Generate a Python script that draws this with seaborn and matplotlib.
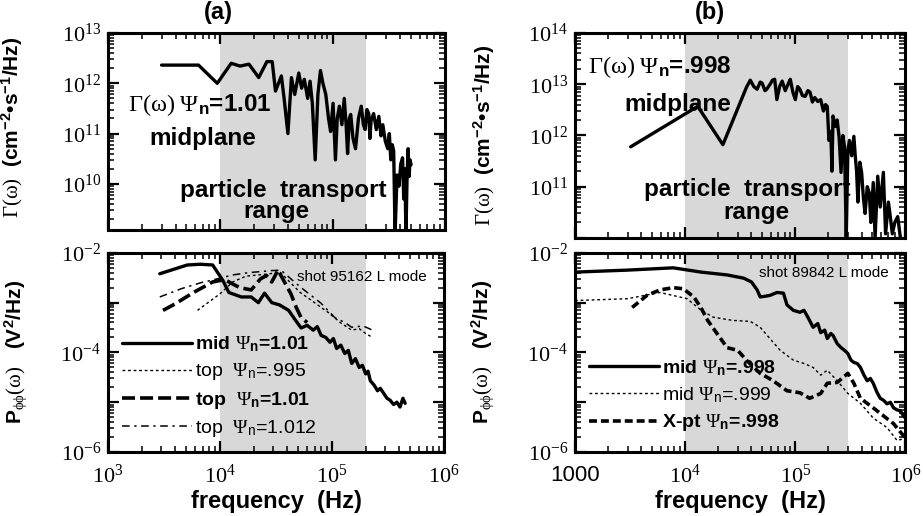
import numpy as np
import pandas as pd
import seaborn as sns
import matplotlib.pyplot as plt
from matplotlib.ticker import LogLocator

# ---- panel (a), upper: flux spectrum, midplane psi_n = 1.01
freq_a_flux = [3.0e3, 6.4e3, 9.4e3, 1.25e4, 1.5e4, 1.8e4, 2.2e4, 2.6e4, 2.9e4, 3.1e4,
               3.3e4, 3.5e4, 3.7e4, 4.0e4, 4.3e4, 4.6e4, 5.0e4, 5.3e4, 5.6e4, 6.0e4,
               6.3e4, 6.6e4, 7.0e4, 7.4e4, 7.8e4, 8.2e4, 8.7e4, 9.2e4, 9.6e4, 1.01e5,
               1.06e5, 1.1e5, 1.15e5, 1.21e5, 1.27e5, 1.32e5, 1.36e5, 1.41e5, 1.45e5, 1.52e5,
               1.6e5, 1.7e5, 1.8e5, 1.88e5, 1.95e5, 2.02e5, 2.1e5, 2.15e5, 2.2e5, 2.32e5,
               2.45e5, 2.58e5, 2.7e5, 2.8e5, 2.95e5, 3.1e5, 3.2e5, 3.3e5, 3.4e5, 3.5e5,
               3.6e5, 3.75e5, 3.9e5, 4.05e5, 4.2e5, 4.3e5, 4.4e5, 4.5e5, 4.6e5, 4.7e5,
               4.8e5, 4.9e5, 5.0e5]
flux_a = [2.3e12, 2.3e12, 1.0e12, 2.5e12, 2.2e12, 2.4e12, 1.3e12, 2.7e12, 2.7e12, 7e11,
          1.0e12, 1.4e12, 5e11, 1.0e11, 1.3e12, 6e11, 1.6e12, 8e11, 1.2e12, 5e11,
          1.1e12, 4e11, 3e10, 6e11, 1.8e12, 1.0e12, 6e11, 2e11, 1.1e11, 4e11,
          3e10, 2e11, 3.5e11, 1.5e11, 5e11, 1.5e11, 4e10, 2e11, 2.4e11, 8e10,
          5e10, 2e11, 3.5e11, 1.5e11, 1.2e11, 3e11, 2.5e11, 8e10, 1.8e11, 2.5e11,
          1.2e11, 2.2e11, 9e10, 1.5e11, 7e10, 5e10, 1.0e11, 3e10, 6e10, 4.5e10,
          1.0e9, 1.5e10, 9e9, 2.5e10, 3.3e10, 5e9, 2e10, 1.0e9, 1.2e10, 5e10,
          1.4e10, 3e10, 2.4e10]

# ---- panel (b), upper: flux spectrum, midplane psi_n = .998
freq_b_flux = [3.2e3, 1.3e4, 2.2e4, 3.6e4, 3.9e4, 4.2e4, 4.5e4, 4.8e4, 5.0e4, 5.3e4,
               5.5e4, 5.9e4, 6.2e4, 6.5e4, 6.8e4, 7.2e4, 7.6e4, 8.1e4, 8.6e4, 9.0e4,
               9.5e4, 1.0e5, 1.05e5, 1.1e5, 1.16e5, 1.23e5, 1.3e5, 1.36e5, 1.43e5, 1.5e5,
               1.6e5, 1.7e5, 1.8e5, 1.88e5, 1.95e5, 2.02e5, 2.1e5, 2.15e5, 2.2e5, 2.3e5,
               2.4e5, 2.5e5, 2.6e5, 2.7e5, 2.8e5, 2.9e5, 3.0e5, 3.1e5, 3.25e5, 3.4e5,
               3.5e5, 3.6e5, 3.7e5, 3.85e5, 4.0e5, 4.15e5, 4.3e5, 4.5e5, 4.7e5, 4.85e5,
               5.1e5, 5.3e5, 5.6e5, 5.9e5, 6.3e5, 6.6e5, 7.0e5, 7.3e5, 7.6e5, 8.0e5,
               8.5e5, 9.0e5]
flux_b = [6e11, 3.7e12, 6.6e11, 8.7e12, 1.2e13, 9e12, 8e12, 1.1e13, 1.05e13, 7.5e12,
          8e12, 1.0e13, 1.2e13, 1.25e13, 5e12, 9e12, 1.15e13, 7.5e12, 1.0e13, 1.25e13,
          7e12, 5e12, 9e12, 8e12, 6e12, 5.8e12, 7.5e12, 7e12, 4.5e12, 5.5e12,
          4.6e12, 5e12, 3e12, 4e12, 3.7e12, 8e11, 1.2e12, 2e11, 2.4e12, 1.5e12,
          2e12, 9e11, 1.9e11, 1.0e12, 6e11, 1.0e10, 5e11, 8e11, 4e11, 9.6e11,
          4e11, 2e11, 5e10, 3e11, 1.9e11, 6e10, 3e10, 1.0e11, 7.5e10, 2e10,
          1.2e11, 1.0e10, 1.6e11, 4e10, 1.9e11, 1.2e10, 5e10, 2.5e10, 1.2e10, 2e10,
          2.6e10, 1.0e10]

# ---- panel (a), lower: potential spectra, shot 95162
freq_a_mid = [2.9e3, 5.1e3, 6.7e3, 8.6e3, 1.06e4, 1.2e4, 1.55e4, 1.9e4, 2.2e4, 2.5e4,
              2.9e4, 3.4e4, 4.1e4, 4.7e4, 5.3e4, 6.0e4, 6.8e4, 7.4e4, 8.0e4, 8.8e4,
              9.6e4, 1.03e5, 1.1e5, 1.2e5, 1.3e5, 1.4e5, 1.5e5, 1.62e5, 1.75e5, 1.87e5,
              2.0e5, 2.1e5, 2.2e5, 2.38e5, 2.55e5, 2.7e5, 2.9e5, 3.1e5, 3.3e5, 3.55e5,
              3.8e5, 4.05e5, 4.3e5, 4.5e5]
pot_a_mid = [3.8e-3, 5.7e-3, 5.9e-3, 5.7e-3, 2.8e-3, 1.6e-3, 1.3e-3, 1.3e-3, 1.0e-3, 1.55e-3,
             1.0e-3, 9e-4, 7e-4, 4.5e-4, 3.1e-4, 3.5e-4, 2.8e-4, 3.3e-4, 2.2e-4, 2.0e-4,
             1.6e-4, 1.9e-4, 1.2e-4, 1.4e-4, 9.5e-5, 1.1e-4, 6e-5, 7.5e-5, 5e-5, 5.5e-5,
             3.7e-5, 4.2e-5, 2.7e-5, 2.2e-5, 1.7e-5, 1.9e-5, 1.5e-5, 1.2e-5, 1.1e-5, 9e-6,
             1.0e-5, 8e-6, 1.2e-5, 9.5e-6]
freq_a_t995 = [6.3e3, 1.0e4, 1.3e4, 1.7e4, 2.2e4, 2.8e4, 3.4e4, 4.2e4, 5.2e4, 6.6e4,
               8.0e4, 9.4e4, 1.2e5, 1.5e5, 1.75e5, 2.0e5, 2.3e5]
pot_a_t995 = [7e-4, 1.5e-3, 2.6e-3, 3.4e-3, 3.6e-3, 3.8e-3, 4.2e-3, 2.6e-3, 1.6e-3, 1.1e-3,
              8e-4, 6.2e-4, 3.9e-4, 2.8e-4, 3.0e-4, 2.4e-4, 2.0e-4]
freq_a_t101 = [3.1e3, 4.0e3, 5.8e3, 8.6e3, 1.1e4, 1.5e4, 1.9e4, 2.3e4, 2.6e4, 2.9e4,
               3.3e4, 3.8e4, 4.3e4, 4.8e4, 5.3e4, 6.0e4]
pot_a_t101 = [7e-4, 9.5e-4, 1.6e-3, 2.6e-3, 2.9e-3, 2.0e-3, 1.8e-3, 3.0e-3, 3.5e-3, 2.6e-3,
              4.5e-3, 2.5e-3, 1.5e-3, 8e-4, 5e-4, 4e-4]
freq_a_t1012 = [2.9e3, 4.5e3, 6.7e3, 1.0e4, 1.3e4, 1.8e4, 2.3e4, 2.9e4, 3.5e4, 4.3e4,
                5.3e4, 6.5e4, 8.0e4, 1.06e5, 1.3e5, 1.5e5, 1.9e5, 2.3e5]
pot_a_t1012 = [1.3e-3, 1.9e-3, 2.5e-3, 3.1e-3, 3.6e-3, 4.0e-3, 4.2e-3, 4.4e-3, 4.5e-3, 3.0e-3,
               2.0e-3, 1.4e-3, 9.7e-4, 5e-4, 4.0e-4, 3.2e-4, 3.4e-4, 2.8e-4]

# ---- panel (b), lower: potential spectra, shot 89842
freq_b_mid = [1.0e3, 3.0e3, 7.8e3, 1.4e4, 2.4e4, 3.4e4, 4.0e4, 4.5e4, 4.8e4, 5.4e4,
              5.9e4, 6.8e4, 7.8e4, 8.4e4, 9.6e4, 1.1e5, 1.2e5, 1.3e5, 1.45e5, 1.6e5,
              1.7e5, 1.85e5, 1.95e5, 2.1e5, 2.2e5, 2.4e5, 2.6e5, 2.8e5, 3.0e5, 3.2e5,
              3.4e5, 3.65e5, 3.9e5, 4.2e5, 4.5e5, 4.8e5, 5.1e5, 5.5e5, 5.9e5, 6.3e5,
              6.8e5, 7.3e5, 7.8e5, 8.4e5, 9.0e5, 9.5e5, 1.0e6]
pot_b_mid = [4.1e-3, 4.5e-3, 5.0e-3, 4.1e-3, 3.6e-3, 3.1e-3, 2.6e-3, 1.8e-3, 1.3e-3, 1.35e-3,
             1.4e-3, 1.6e-3, 1.55e-3, 9e-4, 7e-4, 6.4e-4, 7e-4, 5.1e-4, 3.2e-4, 3.8e-4,
             2.5e-4, 2.8e-4, 1.9e-4, 2.4e-4, 2.2e-4, 1.5e-4, 1.25e-4, 1.1e-4, 9.5e-5, 7e-5,
             6.3e-5, 6e-5, 5e-5, 3.5e-5, 2.7e-5, 3e-5, 2.4e-5, 1.6e-5, 1.2e-5, 1.1e-5,
             9.3e-6, 1e-5, 7.7e-6, 7e-6, 6.7e-6, 5.5e-6, 4.8e-6]
freq_b_m999 = [1.0e3, 3.0e3, 5.9e3, 1.04e4, 1.4e4, 1.8e4, 2.7e4, 3.9e4, 4.8e4, 6.0e4,
               7.3e4, 9.6e4, 1.2e5, 1.45e5, 1.7e5, 1.95e5, 2.4e5, 3.0e5, 3.9e5, 5.1e5,
               6.8e5, 8.4e5, 1.0e6]
pot_b_m999 = [1.1e-3, 1.2e-3, 1.6e-3, 1.2e-3, 7e-4, 5.1e-4, 4.4e-4, 4.2e-4, 3.2e-4, 1.8e-4,
              1.1e-4, 7e-5, 6e-5, 5e-5, 3.5e-5, 4.4e-5, 2.7e-5, 1.5e-5, 9.5e-6, 4.8e-6,
              3.1e-6, 1.7e-6, 1.9e-6]
freq_b_xpt = [3.3e3, 4.5e3, 5.9e3, 7.8e3, 9.6e3, 1.2e4, 1.4e4, 1.6e4, 2.0e4, 2.4e4,
              3.0e4, 3.6e4, 4.8e4, 6.3e4, 8.4e4, 1.1e5, 1.35e5, 1.7e5, 1.95e5, 2.4e5,
              3.0e5, 3.4e5, 3.9e5, 5.1e5, 7.8e5, 1.0e6]
pot_b_xpt = [8e-4, 1.4e-3, 1.8e-3, 2.0e-3, 1.9e-3, 1.3e-3, 7.7e-4, 4.4e-4, 2.2e-4, 1.25e-4,
             1.1e-4, 7e-5, 3.8e-5, 2.7e-5, 1.7e-5, 1.55e-5, 1.2e-5, 1.5e-5, 2.4e-5, 2.5e-5,
             3.8e-5, 2.4e-5, 1.2e-5, 7.7e-6, 3.7e-6, 1.9e-6]

# particle transport frequency range (shaded)
band_a = (1.0e4, 2.0e5)
band_b = (1.0e4, 3.0e5)

sns.set_theme(style="ticks")
plt.rcParams["font.family"] = ["Liberation Sans", "DejaVu Sans"]
plt.rcParams["mathtext.fontset"] = "custom"
plt.rcParams["mathtext.rm"] = "Liberation Serif"
plt.rcParams["mathtext.it"] = "Liberation Serif:italic"
plt.rcParams["mathtext.bf"] = "Liberation Sans:bold"
plt.rcParams["mathtext.sf"] = "Liberation Sans"
for key in ["text.color", "axes.labelcolor", "xtick.color", "ytick.color",
            "axes.edgecolor"]:
    plt.rcParams[key] = "black"

SHADE = "#d8d8d8"


def style_axes(ax, xlim, ylim):
    ax.set_xscale("log")
    ax.set_yscale("log")
    ax.set_xlim(xlim)
    ax.set_ylim(ylim)
    ax.set_facecolor("white")
    for sp in ax.spines.values():
        sp.set_linewidth(2.2)
        sp.set_color("black")
    ax.tick_params(which="both", direction="in", top=True, right=True,
                   colors="black", labelcolor="black")
    ax.tick_params(which="major", length=8, width=1.6, labelsize=16)
    ax.tick_params(axis="y", which="major", pad=5)
    ax.tick_params(axis="x", which="major", pad=9)
    ax.tick_params(which="minor", length=4, width=1.1)
    ax.xaxis.set_minor_locator(LogLocator(base=10, subs=np.arange(2, 10) * 1.0,
                                          numticks=30))
    ax.yaxis.set_minor_locator(LogLocator(base=10, subs=np.arange(2, 10) * 1.0,
                                          numticks=30))
    ax.grid(False)


def draw(ax, x, y, lw, ls="-", label=None):
    df = pd.DataFrame({"f": x, "v": y})
    sns.lineplot(data=df, x="f", y="v", ax=ax, color="black", lw=lw,
                 linestyle=ls, estimator=None, sort=False, label=label,
                 zorder=4)


fig = plt.figure(figsize=(9.23, 5.16), dpi=100)
ax_a1 = fig.add_axes([0.117, 0.554, 0.365, 0.382])
ax_a2 = fig.add_axes([0.117, 0.124, 0.364, 0.386])
ax_b1 = fig.add_axes([0.623, 0.539, 0.358, 0.397])
ax_b2 = fig.add_axes([0.623, 0.124, 0.358, 0.386])

flux_label = r"$\mathrm{\Gamma(\omega)}$  (cm$^{\mathbf{-2}}$•s$^{\mathbf{-1}}$/Hz)"
bold = dict(fontsize=17.5, fontweight="bold", zorder=3)

# ---------------- upper (a)
ax = ax_a1
ax.axvspan(*band_a, color=SHADE, lw=0, zorder=0)
draw(ax, freq_a_flux, flux_a, 2.4)
style_axes(ax, (1e3, 1e6), (1.2e9, 1e13))
ax.set_yticks([1e10, 1e11, 1e12, 1e13])
ax.set_yticklabels([r"$10^{10}$", r"$10^{11}$", r"$10^{12}$", r"$10^{13}$"])
ax.tick_params(labelbottom=False)
ax.set_xlabel("")
ax.set_ylabel(flux_label, fontsize=15, fontweight="bold")
ax.yaxis.set_label_coords(-0.245, 0.52)
ax.text(0.06, 0.635, r"$\mathrm{\Gamma(\omega)\ \Psi}_{\mathbf{n}}$=1.01",
        ha="left", va="center", transform=ax.transAxes, **bold)
ax.text(0.28, 0.467, "midplane", ha="center", va="center",
        transform=ax.transAxes, **bold)
ax.text(0.52, 0.203, "particle  transport", ha="center", va="center",
        transform=ax.transAxes, **bold)
ax.text(0.50, 0.096, "range", ha="center", va="center",
        transform=ax.transAxes, **bold)

# ---------------- upper (b)
ax = ax_b1
ax.axvspan(*band_b, color=SHADE, lw=0, zorder=0)
draw(ax, freq_b_flux, flux_b, 2.4)
style_axes(ax, (1e3, 1e6), (1e10, 1e14))
ax.set_yticks([1e10, 1e11, 1e12, 1e13, 1e14])
ax.set_yticklabels(["", r"$10^{11}$", r"$10^{12}$", r"$10^{13}$", r"$10^{14}$"])
ax.tick_params(labelbottom=False)
ax.set_xlabel("")
ax.set_ylabel(flux_label, fontsize=15, fontweight="bold")
ax.yaxis.set_label_coords(-0.235, 0.5)
ax.text(0.04, 0.834, r"$\mathrm{\Gamma(\omega)\ \Psi}_{\mathbf{n}}$=.998",
        ha="left", va="center", transform=ax.transAxes, **bold)
ax.text(0.31, 0.65, "midplane", ha="center", va="center",
        transform=ax.transAxes, **bold)
ax.text(0.52, 0.234, "particle  transport", ha="center", va="center",
        transform=ax.transAxes, **bold)
ax.text(0.55, 0.122, "range", ha="center", va="center",
        transform=ax.transAxes, **bold)

pot_label = r"P$_{\mathrm{\phi\phi}}$$\mathrm{(\omega)}$   (V$^{\mathbf{2}}$/Hz)"
dec_ticks = [1e-6, 1e-5, 1e-4, 1e-3, 1e-2]
dec_labels = [r"$10^{-6}$", "", r"$10^{-4}$", "", r"$10^{-2}$"]

# ---------------- lower (a)
ax = ax_a2
ax.axvspan(*band_a, color=SHADE, lw=0, zorder=0)
draw(ax, freq_a_mid, pot_a_mid, 2.4, "-", r"mid $\mathrm{\Psi}_{\mathbf{n}}$=1.01")
draw(ax, freq_a_t995, pot_a_t995, 1.0, (0, (2, 2)),
     r"top  $\mathrm{\Psi}_{\mathsf{n}}$=.995")
draw(ax, freq_a_t101, pot_a_t101, 2.6, (0, (3.6, 1.4)),
     r"top  $\mathrm{\Psi}_{\mathbf{n}}$=1.01")
draw(ax, freq_a_t1012, pot_a_t1012, 1.1, (0, (5, 3, 1.5, 3)),
     r"top  $\mathrm{\Psi}_{\mathsf{n}}$=1.012")
style_axes(ax, (1e3, 1e6), (1e-6, 1e-2))
ax.set_yticks(dec_ticks)
ax.set_yticklabels(dec_labels)
ax.set_xticks([1e3, 1e4, 1e5, 1e6])
ax.set_xticklabels([r"$10^{3}$", r"$10^{4}$", r"$10^{5}$", r"$10^{6}$"])
ax.set_xlabel("frequency  (Hz)", fontsize=17, fontweight="bold", labelpad=2)
ax.set_ylabel(pot_label, fontsize=15, fontweight="bold")
ax.yaxis.set_label_coords(-0.235, 0.5)
ax.text(0.95, 0.88, "shot 95162 L mode", ha="right", va="center",
        fontsize=11, transform=ax.transAxes, zorder=3)
leg = ax.legend(loc="upper left", bbox_to_anchor=(0.02, 0.63), frameon=False,
                fontsize=14, handlelength=3.6, handletextpad=0.15,
                labelspacing=0.38, borderaxespad=0)
for t, w in zip(leg.get_texts(), ["bold", "normal", "bold", "normal"]):
    t.set_fontweight(w)

# ---------------- lower (b)
ax = ax_b2
ax.axvspan(*band_b, color=SHADE, lw=0, zorder=0)
draw(ax, freq_b_mid, pot_b_mid, 2.4, "-", r"mid $\mathrm{\Psi}_{\mathbf{n}}$=.998")
draw(ax, freq_b_m999, pot_b_m999, 1.0, (0, (2, 2)),
     r"mid $\mathrm{\Psi}_{\mathsf{n}}$=.999")
draw(ax, freq_b_xpt, pot_b_xpt, 2.6, (0, (2.2, 1.1)),
     r"X-pt $\mathrm{\Psi}_{\mathbf{n}}$=.998")
style_axes(ax, (1e3, 1e6), (1e-6, 1e-2))
ax.set_yticks(dec_ticks)
ax.set_yticklabels(dec_labels)
ax.set_xticks([1e3, 1e4, 1e5, 1e6])
ax.set_xticklabels(["1000", r"$10^{4}$", r"$10^{5}$", r"$10^{6}$"])
ax.set_xlabel("frequency  (Hz)", fontsize=17, fontweight="bold", labelpad=2)
ax.set_ylabel(pot_label, fontsize=15, fontweight="bold")
ax.yaxis.set_label_coords(-0.24, 0.5)
ax.text(0.95, 0.9, "shot 89842 L mode", ha="right", va="center",
        fontsize=11, transform=ax.transAxes, zorder=3)
leg = ax.legend(loc="upper left", bbox_to_anchor=(0.02, 0.51), frameon=False,
                fontsize=14, handlelength=3.6, handletextpad=0.15,
                labelspacing=0.38, borderaxespad=0)
for t, w in zip(leg.get_texts(), ["bold", "normal", "bold"]):
    t.set_fontweight(w)

fig.text(0.237, 0.975, "(a)", ha="center", va="center", fontsize=17,
         fontweight="bold")
fig.text(0.769, 0.975, "(b)", ha="center", va="center", fontsize=17,
         fontweight="bold")

fig.savefig("out.png", dpi=100)
